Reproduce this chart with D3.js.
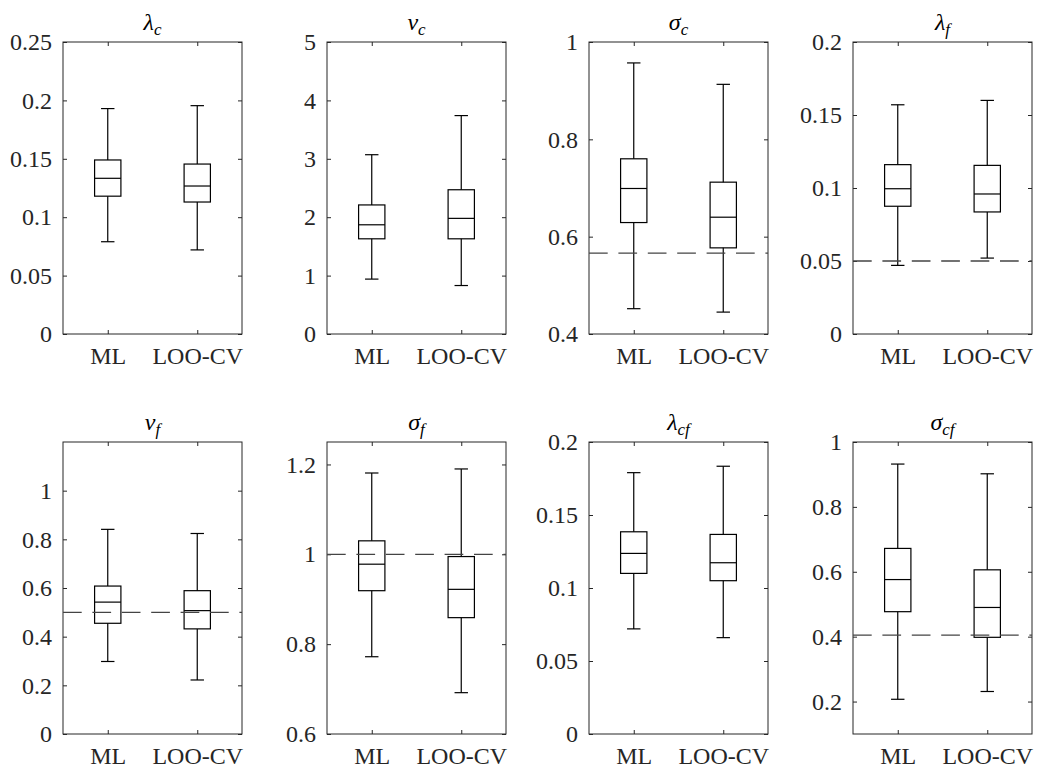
<!DOCTYPE html>
<html>
<head>
<meta charset="utf-8">
<script src="https://cdn.jsdelivr.net/npm/d3@7"></script>
<style>
    body { margin: 0; background: #fff; }
    svg { display: block; }
    .tick line { stroke: #262626; }
</style>
</head>
<body>
<div id="chart"></div>
<script>
// groups on the x axis
var groups = ["ML", "LOO-CV"];

// one entry per panel, left to right, top row first
var titles = [
    ["\u03bb", "c"], ["\u03bd", "c"], ["\u03c3", "c"], ["\u03bb", "f"],
    ["\u03bd", "f"], ["\u03c3", "f"], ["\u03bb", "cf"], ["\u03c3", "cf"]
];
var yDomains = [[0, 0.25], [0, 5], [0.4, 1], [0, 0.2], [0, 1.2], [0.6, 1.25], [0, 0.2], [0.1, 1]];
var yTicks = [
    [0, 0.05, 0.1, 0.15, 0.2, 0.25],
    [0, 1, 2, 3, 4, 5],
    [0.4, 0.6, 0.8, 1],
    [0, 0.05, 0.1, 0.15, 0.2],
    [0, 0.2, 0.4, 0.6, 0.8, 1],
    [0.6, 0.8, 1, 1.2],
    [0, 0.05, 0.1, 0.15, 0.2],
    [0.2, 0.4, 0.6, 0.8, 1]
];
// true values (dashed reference line), null where there is none
var refLines = [null, null, 0.566, 0.05, 0.5, 1.0, null, 0.405];

// box plot statistics, [ML, LOO-CV] per panel
var whiskerLow  = [[0.079, 0.072], [0.94, 0.83], [0.452, 0.445], [0.047, 0.052], [0.298, 0.222], [0.772, 0.692], [0.072, 0.066], [0.207, 0.231]];
var q1          = [[0.118, 0.113], [1.63, 1.63], [0.629, 0.577], [0.0875, 0.0836], [0.455, 0.432], [0.919, 0.859], [0.110, 0.105], [0.477, 0.398]];
var medians     = [[0.1333, 0.1267], [1.87, 1.98], [0.699, 0.640], [0.0995, 0.0959], [0.542, 0.507], [0.978, 0.922], [0.1237, 0.1173], [0.576, 0.490]];
var q3          = [[0.149, 0.1455], [2.21, 2.47], [0.760, 0.712], [0.116, 0.1155], [0.608, 0.589], [1.030, 0.995], [0.1385, 0.1367], [0.672, 0.606]];
var whiskerHigh = [[0.193, 0.1955], [3.07, 3.74], [0.957, 0.913], [0.157, 0.160], [0.841, 0.824], [1.181, 1.190], [0.179, 0.1834], [0.932, 0.902]];

var width = 1039, height = 773;
var axLefts = [63, 327, 589, 853];
var axTops = [42, 442];
var axW = 179, axH = 292;
var boxHalf = 0.147, capHalf = 0.075;
var serif = "'Liberation Serif', Tinos, 'Noto Serif', 'DejaVu Serif', 'Times New Roman', Times, serif";

var svg = d3.select("#chart").append("svg")
    .attr("width", width)
    .attr("height", height);

titles.forEach(function (t, p) {
    var col = p % 4, row = Math.floor(p / 4);
    var g = svg.append("g")
        .attr("transform", "translate(" + axLefts[col] + "," + axTops[row] + ")");

    var x = d3.scaleLinear().domain([0.5, 2.5]).range([0, axW]);
    var y = d3.scaleLinear().domain(yDomains[p]).range([axH, 0]);

    // axes with inward ticks on every side
    g.append("g").call(d3.axisLeft(y).tickValues(yTicks[p]).tickFormat(function (d) { return String(d); })
        .tickSize(-4).tickPadding(11));
    g.append("g").attr("transform", "translate(" + axW + ",0)")
        .call(d3.axisRight(y).tickValues(yTicks[p]).tickFormat("").tickSize(-4));
    g.append("g").attr("transform", "translate(0," + axH + ")")
        .call(d3.axisBottom(x).tickValues([1, 2]).tickFormat(function (d) { return groups[d - 1]; })
            .tickSize(-4).tickPadding(13));
    g.append("g")
        .call(d3.axisTop(x).tickValues([1, 2]).tickFormat("").tickSize(-4));

    g.selectAll(".domain").remove();
    g.selectAll("g").attr("font-family", null).attr("font-size", null);
    g.selectAll(".tick text")
        .style("font-family", serif)
        .style("font-size", "24px")
        .style("fill", "#262626");

    g.append("rect")
        .attr("width", axW).attr("height", axH)
        .attr("fill", "none").attr("stroke", "#262626").attr("stroke-width", 1);

    var stats = groups.map(function (name, i) {
        return { pos: i + 1, lo: whiskerLow[p][i], q1: q1[p][i], med: medians[p][i], q3: q3[p][i], hi: whiskerHigh[p][i] };
    });

    var boxes = g.selectAll(".box").data(stats).enter().append("g").attr("class", "box")
        .attr("stroke", "#000").attr("stroke-width", 1.2).attr("fill", "none");

    // whiskers
    boxes.append("line")
        .attr("x1", function (d) { return x(d.pos); }).attr("x2", function (d) { return x(d.pos); })
        .attr("y1", function (d) { return y(d.q3); }).attr("y2", function (d) { return y(d.hi); });
    boxes.append("line")
        .attr("x1", function (d) { return x(d.pos); }).attr("x2", function (d) { return x(d.pos); })
        .attr("y1", function (d) { return y(d.q1); }).attr("y2", function (d) { return y(d.lo); });
    boxes.append("line")
        .attr("x1", function (d) { return x(d.pos - capHalf); }).attr("x2", function (d) { return x(d.pos + capHalf); })
        .attr("y1", function (d) { return y(d.hi); }).attr("y2", function (d) { return y(d.hi); });
    boxes.append("line")
        .attr("x1", function (d) { return x(d.pos - capHalf); }).attr("x2", function (d) { return x(d.pos + capHalf); })
        .attr("y1", function (d) { return y(d.lo); }).attr("y2", function (d) { return y(d.lo); });
    boxes.append("rect")
        .attr("x", function (d) { return x(d.pos - boxHalf); })
        .attr("width", function (d) { return x(d.pos + boxHalf) - x(d.pos - boxHalf); })
        .attr("y", function (d) { return y(d.q3); })
        .attr("height", function (d) { return y(d.q1) - y(d.q3); });
    boxes.append("line")
        .attr("x1", function (d) { return x(d.pos - boxHalf); }).attr("x2", function (d) { return x(d.pos + boxHalf); })
        .attr("y1", function (d) { return y(d.med); }).attr("y2", function (d) { return y(d.med); });

    if (refLines[p] !== null) {
        g.append("line")
            .attr("x1", x(0.5)).attr("x2", x(2.5))
            .attr("y1", y(refLines[p])).attr("y2", y(refLines[p]))
            .attr("stroke", "#444").attr("stroke-width", 1.3)
            .attr("stroke-dasharray", "18.7,10.7");
    }

    var title = g.append("text")
        .attr("x", axW / 2).attr("y", -12).attr("text-anchor", "middle")
        .style("font-family", serif).style("font-size", "24px")
        .style("font-style", "italic").style("fill", "#000");
    title.append("tspan").text(t[0]);
    title.append("tspan").attr("dy", 5).style("font-size", "17px").text(t[1]);
});
</script>
</body>
</html>
